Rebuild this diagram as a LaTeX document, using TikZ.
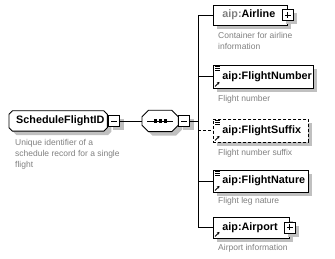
\documentclass[tikz,border=0pt]{standalone}
\usepackage{fontspec}
\setmainfont{Liberation Sans}
\usetikzlibrary{shadows,arrows.meta,backgrounds}

\definecolor{descgray}{RGB}{128,128,128}
\definecolor{shadowgray}{RGB}{192,192,192}

% octagon round a node: #1 node name, #2 size of the cut corners
\newcommand\chamferbox[2]{([xshift=#2]#1.north west) -- ([xshift=-#2]#1.north east)
  -- ([yshift=-#2]#1.north east) -- ([yshift=#2]#1.south east)
  -- ([xshift=-#2]#1.south east) -- ([xshift=#2]#1.south west)
  -- ([yshift=#2]#1.south west) -- ([yshift=-#2]#1.north west) -- cycle}

\tikzset{
  shade box/.style={general shadow={fill=shadowgray, shadow xshift=4pt, shadow yshift=-4pt}},
  namefont/.style={font=\fontsize{10.8}{12}\selectfont\bfseries},
  elem/.style={draw, fill=white, line width=.9pt, anchor=west, inner xsep=0pt, inner ysep=0pt,
    align=left, text width=#1, namefont, execute at begin node=\hspace*{9pt}, shade box},
  rootelem/.style={anchor=west, inner xsep=0pt, inner ysep=0pt, align=left, text width=#1,
    namefont, execute at begin node=\hspace*{7pt}},
  seqbox/.style={anchor=west, inner sep=0pt, minimum width=36pt, minimum height=21pt},
  btn/.style={draw, fill=white, line width=.8pt, minimum size=11pt, inner sep=0pt, anchor=west, shade box},
  minusbtn/.style={btn, path picture={
    \draw[line width=.9pt] ([xshift=2.5pt]path picture bounding box.west) -- ([xshift=-2.5pt]path picture bounding box.east);}},
  plusbtn/.style={btn, path picture={
    \draw[line width=.9pt] ([xshift=2.5pt]path picture bounding box.west) -- ([xshift=-2.5pt]path picture bounding box.east)
      ([yshift=-2.5pt]path picture bounding box.north) -- ([yshift=2.5pt]path picture bounding box.south);}},
  desc/.style={anchor=north west, inner sep=0pt, align=left, text=descgray,
    font=\fontsize{8.5}{11}\selectfont},
  conn/.style={line width=.9pt}
}

\begin{document}
\begin{tikzpicture}[x=1pt, y=-1pt]
\useasboundingbox (0,0) rectangle (335,259);

% root element and its sequence
\node[rootelem=98pt, minimum height=20pt] (root) at (9,121) {ScheduleFlightID};
\node[minusbtn] (rootminus) at ([xshift=1pt]root.east) {};
\node[desc] (rootdesc) at (15,139) {Unique identifier of a\\schedule record for a single\\flight};

\node[seqbox] (seq) at (142,121) {};
\node[minusbtn] (seqminus) at (seq.east) {};

\begin{scope}[on background layer]
  \fill[shadowgray, transform canvas={shift={(4pt,-4pt)}}] \chamferbox{root}{3.5pt};
  \filldraw[fill=white, line width=.9pt] \chamferbox{root}{3.5pt};
  \fill[shadowgray, transform canvas={shift={(4pt,-4pt)}}] \chamferbox{seq}{6.5pt};
  \filldraw[fill=white, line width=.9pt] \chamferbox{seq}{6.5pt};
\end{scope}
\draw[line width=.9pt] ([xshift=-13pt]seq.center) -- ([xshift=13pt]seq.center);
\foreach \dx in {-5,0,5}
  \fill ([xshift=\dx pt]seq.center) +(-1.6pt,-1.6pt) rectangle +(1.6pt,1.6pt);

\coordinate (fork) at (198,121);

% child elements
\node[elem=74pt, minimum height=20pt] (airline) at (213,15) {{\color{descgray}aip:}Airline};
\node[plusbtn, anchor=center] (airlineplus) at (airline.east) {};
\node[desc] (airlinedesc) at (218,32) {Container for airline\\information};

\node[elem=100pt, minimum height=23pt] (fnum) at (213,76.5) {aip:FlightNumber};
\node[desc] (fnumdesc) at (218,95) {Flight number};

\node[elem=95pt, minimum height=23pt, dash pattern=on 3pt off 2pt] (fsuf) at (213,130.5) {aip:FlightSuffix};
\node[desc] (fsufdesc) at (218,149) {Flight number suffix};

\node[elem=95pt, minimum height=22pt] (fnat) at (213,181) {aip:FlightNature};
\node[desc] (fnatdesc) at (218,197) {Flight leg nature};

\node[elem=76pt, minimum height=21pt] (airport) at (213,227.5) {aip:Airport};
\node[plusbtn, anchor=center] (airportplus) at (airport.east) {};
\node[desc] (airportdesc) at (218,244) {Airport information};

% type and reference marks
\foreach \n in {fnum,fsuf,fnat}
  \foreach \dy in {2,4,6}
    \draw[line width=.6pt] ([xshift=2pt,yshift=-\dy pt]\n.north west) -- ++(5pt,0pt);
\foreach \n in {fnum,fsuf,fnat,airport}
  \draw[line width=.9pt, -{Stealth[length=2.5pt,width=3pt]}] ([xshift=2pt,yshift=2pt]\n.south west) -- ++(4.5pt,4.5pt);

% connectors
\draw[conn] (rootminus.east) -- (seq.west);
\draw[conn] (seqminus.east) -- (fork);
\foreach \to in {airline,fnum,fnat,airport}
  \draw[conn] (fork) |- (\to.west);
\draw[conn, dash pattern=on 3pt off 2pt] (fork |- fsuf.west) -- (fsuf.west);

\end{tikzpicture}
\end{document}
